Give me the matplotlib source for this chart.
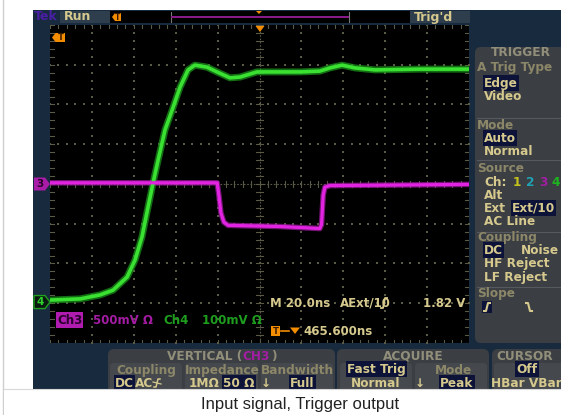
import matplotlib
matplotlib.use("Agg")
import matplotlib.pyplot as plt
from matplotlib.patches import Rectangle, FancyBboxPatch, Polygon

W, H = 561, 415

# ---------------- data (time in ns, amplitude in divisions) ----------------
green_t = [-100, -85.6, -76.1, -69.9, -63.2, -59.4, -56.1, -53.2, -50.8, -48.4, -45.1,
           -41.7, -37.9, -34.1, -30.8, -25.1, -20.3, -14.1, -9.3, -1.2, 19.4, 28.8,
           33.6, 39.4, 45.6, 55.2, 76.6, 100]
green_v = [-2.92, -2.89, -2.79, -2.67, -2.34, -1.91, -1.33, -0.58, 0.03, 0.60, 1.36,
           1.86, 2.44, 2.87, 2.99, 2.94, 2.82, 2.67, 2.69, 2.82, 2.82, 2.84,
           2.92, 2.99, 2.92, 2.87, 2.89, 2.89]
mag_t = [-100, -20.2, -19.4, -18.4, -17, -15, 9.8, 28.8, 29.6, 30.4, 31.2, 33.6, 100]
mag_v = [0.03, 0.03, -0.28, -0.73, -0.96, -1.04, -1.07, -1.12, -1.02, -0.28, -0.08, -0.04, -0.01]
ch3_offset = 0.0
ch4_offset = -2.97
time_div = 20          # ns per division
n_hdiv, n_vdiv = 10, 8
caption = "Input signal, Trigger output"

# ---------------- colours ----------------
FRAME = "#182a3d"
PANEL = "#3b3e43"
SUB = "#45484c"
TAN = "#d6c98e"
DIM = "#8c8768"
HEAD = "#918e7a"
HL = "#0c1238"
ORANGE = "#f28c00"
MAG = "#e224e2"
GRN = "#3ae032"
GRIDC = "#5a5a46"

PS = 8.7   # panel text size

fig = plt.figure(figsize=(W / 100, H / 100), dpi=100)
fig.patch.set_facecolor("white")

bg = fig.add_axes([0, 0, 1, 1], label="bg")
bg.set_xlim(0, W); bg.set_ylim(H, 0); bg.axis("off"); bg.set_zorder(0)

gx0, gy0, gx1, gy1 = 50, 25, 469, 343
ax = fig.add_axes([gx0 / W, 1 - gy1 / H, (gx1 - gx0) / W, (gy1 - gy0) / H], label="grid")
ax.set_zorder(1)

ov = fig.add_axes([0, 0, 1, 1], label="ov")
ov.set_xlim(0, W); ov.set_ylim(H, 0); ov.axis("off"); ov.set_zorder(2)
ov.patch.set_alpha(0)

FONT = "DejaVu Sans"


def rect(a, x0, y0, x1, y1, c, z=1, **kw):
    a.add_patch(Rectangle((x0, y0), x1 - x0, y1 - y0, fc=c, ec="none", zorder=z, **kw))


def rrect(a, x0, y0, x1, y1, c, r=5, z=1):
    a.add_patch(FancyBboxPatch((x0 + r, y0 + r), x1 - x0 - 2 * r, y1 - y0 - 2 * r,
                               boxstyle=f"round,pad={r}", fc=c, ec="none", zorder=z))


def T(x, y, s, c=TAN, size=PS, ha="left", hl=None, a=None, weight="bold", z=5):
    a = a or ov
    kw = {}
    if hl:
        kw["bbox"] = dict(boxstyle="square,pad=0.1", fc=hl, ec="none")
    a.text(x, y, s, color=c, fontsize=size, ha=ha, va="center", fontweight=weight,
           family=[FONT], zorder=z, **kw)


# ---------------- outer frame ----------------
bg.plot([3, 3], [0, H], color="#cfcfcf", lw=1, zorder=1)
rect(bg, 33, 10, W, 389, FRAME, z=1)

# top bar
T(34, 17, "Tek", "#4a1ea6", 9, a=bg)
rect(bg, 60, 11, 110, 23, "#2f3e4d", z=2)
T(64, 17, "Run", TAN, 9, a=bg)
rect(bg, 110, 11, 170, 23, "black", z=2)
bg.add_patch(Polygon([(112, 17), (115, 13), (121, 13), (121, 21), (115, 21)], fc=ORANGE, ec="none", zorder=3))
T(117.5, 17, "T", "#3a1a00", 5.5, ha="center", a=bg, z=4)
rect(bg, 170, 11, 350, 23, "black", z=2)
bg.plot([171, 171], [12, 22], color="#777", lw=0.8, zorder=3)
bg.plot([349, 349], [12, 22], color="#777", lw=0.8, zorder=3)
bg.plot([172, 348], [17, 17], color="#8c1c8c", lw=1.4, zorder=3)
bg.add_patch(Polygon([(256, 11), (262, 11), (259, 14)], fc=ORANGE, ec="none", zorder=4))
rect(bg, 350, 11, 410, 23, "black", z=2)
rect(bg, 410, 11, 470, 23, "#2f3e4d", z=2)
T(414, 17, "Trig'd", TAN, 9, a=bg)

# ---------------- right trigger panel ----------------
rrect(bg, 475, 47, 575, 343, PANEL, r=6, z=2)
for yy in (118, 160, 232, 287):
    bg.plot([477, W], [yy, yy], color="#56595d", lw=0.8, zorder=3)
T(521, 53, "TRIGGER", HEAD, PS, ha="center", a=bg)
T(477, 68, "A Trig Type", DIM, a=bg)
T(484, 83, "Edge", TAN, hl=HL, a=bg)
T(484, 96, "Video", TAN, a=bg)
T(477, 125, "Mode", DIM, a=bg)
T(484, 138, "Auto", TAN, hl=HL, a=bg)
T(484, 151, "Normal", TAN, a=bg)
T(477, 168, "Source", DIM, a=bg)
T(484, 182, "Ch:", TAN, a=bg)
T(513, 182, "1", "#c4c21e", a=bg)
T(526, 182, "2", "#1fa3b4", a=bg)
T(539, 182, "3", "#a21ea2", a=bg)
T(551, 182, "4", "#1fb41f", a=bg)
T(484, 195, "Alt", TAN, a=bg)
T(484, 208, "Ext", TAN, a=bg)
T(512, 208, "Ext/10", TAN, hl=HL, a=bg)
T(484, 221, "AC Line", TAN, a=bg)
T(477, 237, "Coupling", DIM, a=bg)
T(484, 250, "DC", TAN, hl=HL, a=bg)
T(521, 250, "Noise", TAN, a=bg)
T(484, 263, "HF Reject", TAN, a=bg)
T(484, 277, "LF Reject", TAN, a=bg)
T(477, 293, "Slope", DIM, a=bg)
rect(bg, 482, 301, 492, 313, HL, z=3)
bg.plot([484, 486, 488, 490], [311, 311, 303, 303], color=TAN, lw=1.5, zorder=4)
bg.plot([526, 528, 530, 532], [303, 303, 311, 311], color=TAN, lw=1.5, zorder=4)

# ---------------- bottom panels ----------------
rrect(bg, 108, 349, 335, 400, PANEL, r=6, z=2)
rrect(bg, 110, 363, 182, 400, SUB, r=4, z=3)
rrect(bg, 185, 363, 258, 400, SUB, r=4, z=3)
rrect(bg, 261, 363, 333, 400, SUB, r=4, z=3)
T(242, 356, "VERTICAL (", HEAD, ha="right", a=bg)
T(242, 356, "CH3", "#a21ea2", a=bg)
T(271, 356, ")", HEAD, a=bg)
T(146, 370, "Coupling", DIM, ha="center", a=bg)
T(222, 370, "Impedance", DIM, ha="center", a=bg)
T(297, 370, "Bandwidth", DIM, ha="center", a=bg)
T(115, 383, "DC", TAN, hl=HL, a=bg)
T(135, 383, "AC", TAN, a=bg)
bg.plot([154, 156, 158, 160], [387, 387, 379, 379], color=TAN, lw=1.1, zorder=4)
bg.plot([153, 161], [382, 384], color=TAN, lw=0.9, zorder=4)
T(189, 383, "1M\u03a9", TAN, a=bg)
T(223, 383, "50 \u03a9", TAN, hl=HL, a=bg)
T(261, 383, "\u2193", TAN, a=bg)
T(290, 383, "Full", TAN, hl=HL, a=bg)

rrect(bg, 337, 349, 489, 400, PANEL, r=6, z=2)
rrect(bg, 340, 363, 412, 400, SUB, r=4, z=3)
rrect(bg, 415, 363, 487, 400, SUB, r=4, z=3)
T(413, 356, "ACQUIRE", HEAD, ha="center", a=bg)
T(347, 369, "Fast Trig", TAN, hl=HL, a=bg)
T(454, 370, "Mode", DIM, ha="center", a=bg)
T(376, 383, "Normal", TAN, ha="center", a=bg)
T(415, 383, "\u2193", TAN, a=bg)
T(440, 383, "Peak", TAN, hl=HL, a=bg)

rrect(bg, 492, 349, 580, 400, PANEL, r=6, z=2)
rrect(bg, 494, 363, 580, 400, SUB, r=4, z=3)
T(525, 356, "CURSOR", HEAD, ha="center", a=bg)
T(527, 369, "Off", TAN, ha="center", hl=HL, a=bg)
T(526, 383, "HBar VBar", TAN, ha="center", a=bg)

# white below screen + caption
rect(bg, 4, 389, W, H, "white", z=6)
bg.plot([4, W], [389, 389], color="#d8d8d8", lw=0.8, zorder=7)
bg.text(300, 404, caption, color="#222222", fontsize=12, ha="center", va="center",
        family=["Liberation Sans", "DejaVu Sans"], zorder=8)

# ---------------- graticule ----------------
tmin, tmax = -n_hdiv / 2 * time_div, n_hdiv / 2 * time_div
ax.set_xlim(tmin, tmax)
ax.set_ylim(-n_vdiv / 2, n_vdiv / 2)
ax.set_facecolor("black")
ax.set_xticks([]); ax.set_yticks([])
for s in ax.spines.values():
    s.set_visible(False)

minor_t = time_div / 5
xs_minor = [tmin + k * minor_t for k in range(int(n_hdiv * 5) + 1)]
ys_minor = [-n_vdiv / 2 + k * 0.2 for k in range(int(n_vdiv * 5) + 1)]
vlines = [tmin + k * time_div for k in range(1, n_hdiv) if k != n_hdiv // 2]
hlines = [-n_vdiv / 2 + k for k in range(1, n_vdiv) if k != n_vdiv // 2]
dx, dy = [], []
for xv in vlines:
    for yv in ys_minor:
        dx.append(xv); dy.append(yv)
for yv in hlines:
    for xv in xs_minor:
        dx.append(xv); dy.append(yv)
ax.scatter(dx, dy, s=1.6, c=GRIDC, marker="s", linewidths=0, zorder=1)
# centre cross
ax.axvline(0, color=GRIDC, lw=0.8, ls=(0, (1.5, 1.5)), zorder=1)
ax.axhline(0, color=GRIDC, lw=0.8, ls=(0, (1.5, 1.5)), zorder=1)
tk_t = 0.09 * time_div
tk_v = 0.08
for yv in ys_minor:
    ax.plot([-tk_t, tk_t], [yv, yv], color=GRIDC, lw=0.8, zorder=1)
    ax.plot([tmin, tmin + tk_t], [yv, yv], color=GRIDC, lw=0.8, zorder=1)
    ax.plot([tmax - tk_t, tmax], [yv, yv], color=GRIDC, lw=0.8, zorder=1)
for xv in xs_minor:
    ax.plot([xv, xv], [-tk_v, tk_v], color=GRIDC, lw=0.8, zorder=1)
    ax.plot([xv, xv], [n_vdiv / 2 - tk_v, n_vdiv / 2], color=GRIDC, lw=0.8, zorder=1)
    ax.plot([xv, xv], [-n_vdiv / 2, -n_vdiv / 2 + tk_v], color=GRIDC, lw=0.8, zorder=1)

# ---------------- traces ----------------
ax.plot(green_t, green_v, color="#1c9c1c", lw=5, alpha=0.7, solid_joinstyle="round", zorder=3)
ax.plot(green_t, green_v, color=GRN, lw=2.6, solid_joinstyle="round", zorder=4)
ax.plot(mag_t, mag_v, color="#a41aa4", lw=4.0, alpha=0.7, solid_joinstyle="round", zorder=3)
ax.plot(mag_t, mag_v, color=MAG, lw=2.3, solid_joinstyle="round", zorder=4)

# ---------------- overlay markers / readouts ----------------
def ypx(v):
    return gy1 - (v + n_vdiv / 2) / n_vdiv * (gy1 - gy0)

y3 = ypx(ch3_offset)
ov.add_patch(Polygon([(34, y3 - 6.5), (45, y3 - 6.5), (50, y3), (45, y3 + 6.5), (34, y3 + 6.5)],
                     fc="#a81ca8", ec="none", zorder=5))
T(40, y3, "3", "#2c002c", 7.5, ha="center")
y4 = ypx(ch4_offset)
ov.add_patch(Polygon([(34, y4 - 6.5), (45, y4 - 6.5), (50, y4), (45, y4 + 6.5), (34, y4 + 6.5)],
                     fc="#0a1a10", ec="#1fa01f", lw=1.0, zorder=5))
T(40, y4, "4", "#2ed02e", 7.5, ha="center")

# trigger position marker at top centre
ov.add_patch(Polygon([(255.5, 26), (264.5, 26), (260, 32)], fc=ORANGE, ec="none", zorder=5))
# top-left T tag
ov.add_patch(Polygon([(52, 37.5), (55.5, 33), (65, 33), (65, 42), (55.5, 42)], fc=ORANGE, ec="none", zorder=5))
T(60.5, 37.5, "T", "#3a1a00", 6, ha="center")

# readouts
T(270, 303, "M 20.0ns", TAN, 8.5)
T(340, 303, "AExt/10", TAN, 8.5)
ov.plot([381, 383, 385, 387], [308, 308, 298, 298], color=TAN, lw=1.3, zorder=6)
T(465, 303, "1.82 V", TAN, 8.5, ha="right")
T(57, 320, "Ch3", "#2a002e", 8.5, hl="#b01cb0")
T(93, 320, "500mV \u03a9", "#a41ca4", 8.5)
T(163, 320, "Ch4", "#1e9e1e", 8.5)
T(202, 320, "100mV \u03a9", "#1e9e1e", 8.5)
ov.add_patch(Polygon([(271, 326), (280, 326), (280, 336), (271, 336)], fc=ORANGE, ec="none", zorder=5))
T(275.5, 331, "T", "#3a1a00", 6, ha="center")
ov.plot([281, 289], [331, 331], color=ORANGE, lw=1.2, zorder=6)
ov.add_patch(Polygon([(290, 327.5), (300, 327.5), (295, 334)], fc=ORANGE, ec="none", zorder=5))
T(303, 331, "465.600ns", TAN, 8.5)

fig.savefig("out.png", dpi=100, facecolor="white")
